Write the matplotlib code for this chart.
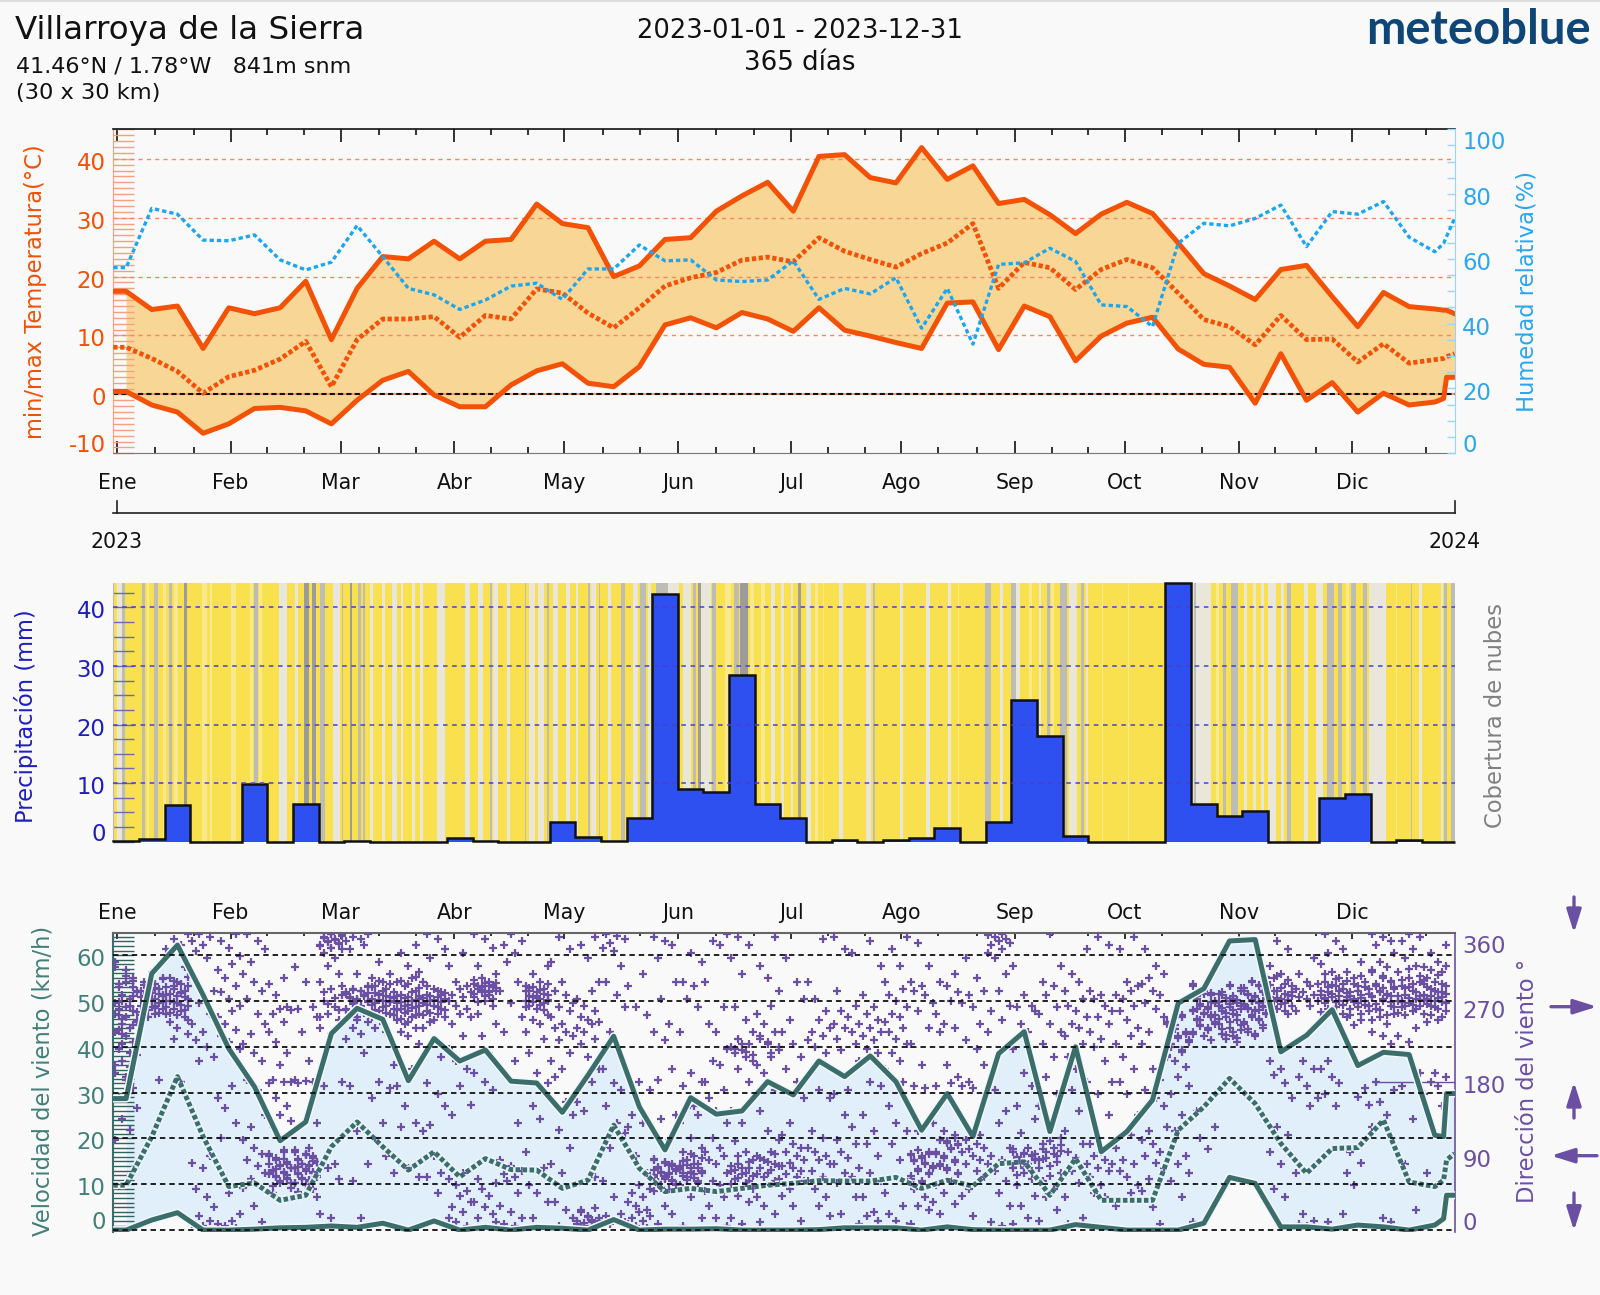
import numpy as np
import matplotlib
matplotlib.use('Agg')
import matplotlib.pyplot as plt
import matplotlib.patheffects as pe
from matplotlib.transforms import ScaledTranslation

plt.rcParams['axes.unicode_minus'] = False

W, H = 1600, 1295
XMAX = 365.9

months = ['Ene', 'Feb', 'Mar', 'Abr', 'May', 'Jun', 'Jul', 'Ago', 'Sep', 'Oct', 'Nov', 'Dic']
month_days = [1, 32, 62, 93, 123, 154, 185, 215, 246, 276, 307, 338]
minor_days = [11.5, 22, 42, 52, 72.5, 82.7, 103, 113, 133.5, 143.6, 164.3, 174.7, 195, 205, 225,
              235.6, 256, 266, 286, 297, 317, 328, 348, 358]

# weekly values, last three entries are the short stub at the end of the year
point_days = [3.5 + 7 * k for k in range(52)] + [362.9, 363.7, 365.9]

temp_max = [17.5, 14.4, 15, 7.8, 14.7, 13.7, 14.7, 19.2, 9.3, 18, 23.4, 23, 26, 23, 26, 26.3, 32.3, 29, 28.3, 20,
            21.8, 26.3, 26.6, 31.1, 33.7, 36, 31.1, 40.4, 40.7, 36.8, 35.9, 41.9, 36.5, 38.8, 32.4, 33.1, 30.5,
            27.3, 30.6, 32.6, 30.7, 25.7, 20.5, 18.4, 16.1, 21.2, 21.9, 16.6, 11.5, 17.3, 14.9, 14.5, 14.3, 14.3, 13.7]
temp_mean = [8, 6.1, 3.9, 0.2, 3, 4.1, 6, 9, 1.3, 9.3, 12.8, 12.8, 13.2, 9.7, 13.4, 12.8, 17.9, 17.2, 13.8, 11.3,
             14.7, 18.4, 19.8, 20.7, 22.8, 23.3, 22.5, 26.6, 24.3, 22.9, 21.6, 23.9, 25.7, 29, 18, 22.4, 21.5,
             17.8, 21.2, 22.9, 21.5, 17.2, 12.7, 11.5, 8.4, 13.4, 9.3, 9.4, 5.5, 8.6, 5.3, 5.9, 6.1, 6.4, 6.9]
temp_min = [0.5, -1.8, -3, -6.6, -5, -2.4, -2.2, -2.8, -5, -1, 2.4, 3.9, -0.1, -2.1, -2.1, 1.6, 4, 5.2, 1.9, 1.3,
            4.7, 11.8, 13, 11.3, 13.9, 12.8, 10.7, 14.7, 10.9, 9.9, 8.8, 7.8, 15.5, 15.7, 7.6, 15, 13.2,
            5.7, 9.9, 12.1, 13.1, 7.7, 5.1, 4.6, -1.5, 6.9, -1, 2, -3, 0.2, -1.8, -1.3, -0.7, 2.9, 2.9]
humidity = [57.3, 75.6, 73.8, 65.8, 65.6, 67.4, 59.7, 56.6, 59, 70.3, 60.7, 50.9, 48.9, 44.4, 47.3, 51.6, 52.5,
            47.5, 56.9, 56.9, 64.3, 59.4, 59.7, 53.5, 53, 53.5, 59.4, 47.5, 50.9, 49.2, 54.2, 38.6, 50.9, 33.7,
            58.3, 58.8, 63.3, 59.2, 45.8, 45.3, 39.1, 64.8, 71, 70.2, 72.5, 76.6, 63.8, 74.6, 73.8, 77.7, 66.7,
            62.2, 64.8, 66.9, 72.5]

precip = [0.1, 0.4, 6.3, 0, 0, 9.8, 0, 6.5, 0, 0.15, 0, 0, 0, 0.7, 0.15, 0, 0, 3.4, 0.85, 0.15, 4, 42.3, 9, 8.5,
          28.4, 6.5, 4, 0, 0.3, 0, 0.25, 0.7, 2.4, 0, 3.3, 24.1, 18, 0.9, 0, 0, 0, 44.2, 6.4, 4.4, 5.2, 0, 0, 7.4,
          8.2, 0, 0.3, 0]
precip_edges = [7 * k for k in range(52)] + [XMAX]

# cloudy stripes: first day, last day, cover level (everything else is clear sky)
cloud_start = [1.1, 2.4, 7.7, 9.1, 11.2, 13.5, 15.3, 16.6, 19.3, 24.1, 26.4, 32, 37.3, 38.5, 39.8, 45.3, 49.5, 52.1,
               54.1, 56.4, 60, 62.3, 64.7, 66.8, 68.2, 70, 73.2, 75.9, 78.6, 81.4, 83.6, 88.4, 95.9, 99.5, 102.7,
               103.6, 107.3, 112.3, 113.5, 115.9, 118.2, 120, 123.6, 126.3, 129.5, 130.4, 132.4, 134.9, 138.6,
               141.8, 143.8, 145.8, 148.1, 151.3, 155.4, 158.1, 159.5, 160.4, 163.3, 166.8, 169.3, 171, 173.6,
               176.8, 179.5, 182.2, 184.9, 186.9, 189, 191.3, 193.6, 198.1, 205.4, 207.2, 214.5, 221.8, 227.7,
               230.4, 237.7, 241.8, 244.9, 246.2, 249.9, 252.6, 254.6, 255.8, 258.2, 260.8, 264, 265.3, 269.7,
               276.7, 294.4, 294.9, 300.8, 302.6, 304.9, 308.5, 310.8, 313, 314.9, 318.5, 320.3, 324.7, 328,
               331.2, 334.2, 336.4, 337.6, 341, 342.6, 349.9, 354, 356.2, 362.1, 363, 364.9]
cloud_end = [2.3, 3.3, 8.6, 9.8, 12.1, 14.4, 16, 17.7, 20.2, 25.5, 26.9, 33.6, 38.2, 39.5, 40.7, 47.3, 50.5, 53.4,
             55.3, 57.7, 61.8, 62.7, 65.2, 67.5, 68.6, 70.9, 74.1, 77.3, 79.1, 82.3, 84.5, 90.5, 97.3, 100.9, 103.2,
             105, 108.2, 112.7, 115, 117.5, 118.9, 121.4, 124.5, 126.8, 130.1, 131.8, 132.8, 135.7, 139.5,
             143.1, 145.4, 146.8, 151.3, 154.2, 157.7, 159, 160.2, 163.1, 164.5, 168.6, 170.8, 173.1, 174.9,
             177.7, 180.4, 183.1, 185.4, 187.7, 190.4, 192.2, 194, 199, 206.8, 207.7, 215.4, 222.7, 228.6,
             230.8, 239.3, 242.7, 246.2, 247.3, 250.6, 253, 255.5, 256.7, 260.3, 263, 264.9, 265.8, 270,
             277, 299.4, 295.3, 301.7, 303.5, 306.7, 309.4, 311.7, 313.9, 317.1, 319.4, 321.2, 325.8, 329.9,
             333, 335.3, 337.1, 338.9, 341.9, 347.1, 350.3, 354.4, 357.1, 362.6, 363.7, 365.9]
cloud_level = [2, 3, 3, 1, 3, 1, 3, 1, 4, 1, 1, 1, 1, 3, 1, 2, 2, 4, 4, 3, 2, 3, 4, 3, 3, 2, 2, 2, 2, 2, 2, 2, 2, 2, 3,
               2, 2, 3, 2, 2, 3, 2, 2, 2, 3, 2, 3, 2, 3, 2, 3, 2, 3, 2, 2, 3, 4, 2, 3, 1, 3, 4, 1, 1, 2, 2, 2, 4, 2, 1,
               1, 2, 2, 3, 2, 2, 2, 1, 3, 2, 3, 2, 1, 2, 3, 1, 3, 2, 3, 2, 1, 1, 2, 3, 1, 3, 3, 2, 2, 2, 2, 2, 3, 2, 2,
               3, 3, 1, 3, 3, 2, 1, 3, 2, 2, 3, 3]
cloud_colors = {1: '#F8E98E', 2: '#E9E7DC', 3: '#BDBDB5', 4: '#9C9C9C'}

wind_max = [28.7, 56, 62.2, 51.3, 39.6, 31.3, 19.5, 23.6, 42.9, 48.4, 46, 32.6, 41.8, 36.9, 39.3, 32.5, 32.1, 25.7,
            33.8, 42.3, 26.9, 17.5, 28.9, 25.3, 26, 32.4, 29.5, 36.9, 33.5, 38, 32.4, 21.8, 29.8, 20.4, 38.5, 43.3,
            21.5, 40, 17.1, 21.5, 28.4, 49.5, 52.7, 63.1, 63.4, 38.9, 42.5, 48.1, 35.9, 38.8, 38.3, 20.7, 20.4, 29.8, 29.8]
wind_mean = [9.8, 20.4, 33.5, 20.4, 9.5, 10.3, 6.5, 7.6, 18.2, 23.6, 18.2, 13.1, 17.1, 11.6, 15.6, 13.2, 13.1, 9.1,
             10.9, 22.9, 13.5, 8.4, 9.1, 8.4, 9.1, 9.8, 10.2, 10.8, 10.7, 10.7, 11.5, 9.1, 10.9, 9.6, 14.5, 14.9,
             7.6, 15.6, 6.5, 6.5, 6.5, 21.8, 26.9, 33.1, 27.6, 18.9, 12.4, 17.8, 18, 24, 10.5, 9.5, 10.9, 15.3, 16.7]
wind_min = [0, 2.2, 3.8, 0, 0, 0.2, 0.5, 0.6, 0.9, 0.6, 1.5, 0, 2, 0, 0.6, 0, 0.6, 0.4, 0, 2.3, 0, 0.2, 0.2, 0.3,
            0, 0, 0, 0.1, 0.5, 0.5, 0.5, 0, 0.7, 0.1, 0, 0, 0, 1.2, 0.6, 0, 0, 0, 1.5, 11.5, 10.2, 0.7, 0.7, 0.2,
            1.1, 0.7, 0, 1.1, 2.5, 7.6, 7.6]

# wind direction readings, one list per week
wind_dir = [
    [325, 315, 305, 298, 290, 285, 280, 275, 270, 265, 260, 255, 250, 245, 240, 235, 228, 220, 212, 205, 198, 190, 182, 172, 160, 148, 135, 122, 110, 300, 283, 268, 252, 238],
    [312, 305, 300, 298, 295, 292, 290, 287, 285, 283, 280, 278, 275, 272, 270, 268, 265, 262, 258, 182],
    [358, 352, 345, 340, 318, 305, 300, 296, 292, 288, 285, 282, 278, 275, 272, 268, 265, 262, 258, 252, 245, 238, 232, 180],
    [359, 355, 350, 345, 338, 330, 290, 275, 262, 250, 240, 230, 222, 210, 205, 90, 82, 75, 50, 40, 28, 18, 12, 8, 5],
    [358, 350, 342, 332, 322, 315, 305, 295, 288, 280, 272, 265, 258, 250, 242, 235, 228, 220, 175, 160, 148, 130, 112, 45, 20, 12, 8, 5, 3],
    [358, 350, 340, 325, 310, 300, 290, 280, 262, 250, 238, 225, 215, 205, 182, 170, 140, 125, 110, 100, 92, 85, 78, 70, 62, 52, 30, 10],
    [305, 298, 285, 270, 268, 266, 262, 252, 240, 228, 215, 200, 180, 182, 180, 178, 160, 150, 140, 132, 125, 95, 90, 85, 80, 78, 75, 72, 70, 68, 65, 62, 58, 52, 45],
    [318, 300, 270, 268, 258, 240, 205, 182, 181, 180, 178, 130, 128, 100, 95, 92, 88, 85, 82, 80, 78, 75, 72, 70, 68, 65, 62, 60, 58, 55, 50, 46, 40],
    [359, 357, 355, 352, 350, 348, 345, 342, 340, 335, 330, 320, 310, 300, 292, 285, 278, 270, 262, 255, 245, 238, 180, 175, 80, 75, 62, 20, 15],
    [358, 355, 352, 350, 345, 340, 310, 295, 292, 290, 288, 285, 282, 280, 278, 275, 272, 268, 265, 262, 258, 252, 245, 238, 232, 215, 175, 120, 80, 60, 15],
    [325, 310, 305, 300, 296, 292, 288, 285, 282, 280, 278, 275, 272, 268, 265, 262, 258, 250, 245, 240, 200, 180, 172, 160, 130, 112, 90, 70],
    [345, 335, 320, 312, 305, 300, 295, 290, 285, 282, 280, 278, 275, 272, 270, 268, 265, 262, 258, 255, 250, 245, 240, 235, 225, 195, 175, 150, 130, 125, 75, 65],
    [359, 352, 340, 330, 300, 292, 288, 285, 282, 280, 278, 275, 272, 268, 265, 262, 258, 252, 245, 230, 210, 178, 165, 150, 128, 120, 90, 70, 65, 45],
    [335, 320, 300, 295, 292, 288, 285, 282, 278, 272, 268, 262, 258, 250, 235, 220, 205, 195, 175, 152, 140, 70, 62, 55, 48, 42, 35, 28, 22, 15, 10, 5],
    [359, 352, 342, 320, 310, 305, 300, 298, 296, 294, 292, 290, 288, 285, 282, 278, 272, 262, 250, 235, 215, 190, 180, 170, 62, 58, 50, 42, 35, 28, 20, 15, 10],
    [359, 350, 345, 335, 325, 300, 290, 275, 258, 240, 205, 185, 130, 85, 78, 72, 68, 65, 60, 45, 30, 22, 15, 8, 5],
    [320, 310, 300, 295, 292, 290, 288, 285, 282, 280, 278, 275, 272, 268, 260, 255, 250, 240, 232, 215, 190, 178, 150, 135, 95, 75, 55, 45, 35, 15],
    [355, 340, 325, 300, 290, 285, 275, 270, 265, 258, 250, 245, 240, 235, 230, 215, 205, 195, 185, 155, 140, 122, 100, 80, 70, 35, 25, 15, 5],
    [355, 345, 330, 300, 290, 280, 272, 265, 258, 255, 252, 250, 245, 240, 232, 225, 210, 195, 180, 155, 145, 65, 25, 18, 12, 10, 8, 6, 4, 3],
    [359, 356, 352, 348, 342, 338, 320, 300, 285, 270, 240, 195, 178, 170, 150, 130, 118, 100, 60, 40, 20, 18, 12, 10, 8],
    [310, 296, 270, 260, 180, 170, 140, 130, 125, 90, 70, 55, 50, 45, 40, 35, 30, 25, 22, 18, 15, 12, 8, 5, 3],
    [355, 350, 345, 330, 300, 280, 250, 240, 230, 195, 182, 140, 135, 110, 85, 82, 78, 75, 72, 70, 68, 65, 62, 60, 58, 55, 52, 50, 48, 30, 20, 8],
    [335, 325, 300, 295, 280, 270, 240, 190, 180, 175, 150, 148, 140, 130, 112, 100, 95, 90, 85, 80, 78, 75, 72, 70, 68, 65, 60, 55, 40, 15, 5],
    [359, 350, 345, 300, 270, 250, 240, 220, 205, 200, 180, 170, 160, 145, 130, 112, 100, 95, 90, 85, 80, 70, 60, 55, 48, 40, 30, 15, 5],
    [355, 345, 330, 310, 270, 255, 240, 232, 225, 222, 218, 215, 210, 205, 195, 180, 145, 130, 108, 95, 85, 80, 75, 72, 68, 62, 58, 50, 42, 35, 15, 8],
    [355, 320, 305, 290, 272, 262, 250, 240, 232, 225, 218, 210, 200, 190, 170, 145, 120, 110, 95, 90, 85, 80, 75, 70, 62, 55, 40, 30, 20, 10],
    [330, 300, 280, 255, 240, 225, 210, 195, 180, 160, 130, 115, 105, 100, 95, 90, 85, 82, 78, 75, 72, 68, 65, 60, 50, 42, 30, 12],
    [352, 300, 280, 265, 255, 245, 240, 235, 230, 222, 215, 170, 160, 120, 112, 100, 95, 90, 85, 80, 72, 65, 60, 50, 40, 30, 18],
    [355, 340, 335, 290, 272, 265, 258, 250, 245, 240, 232, 225, 218, 170, 165, 140, 125, 110, 105, 95, 88, 80, 70, 65, 58, 40, 20],
    [350, 320, 285, 270, 262, 255, 250, 245, 240, 235, 230, 220, 215, 205, 180, 175, 140, 120, 105, 90, 75, 70, 60, 40, 22, 18, 12, 8],
    [355, 340, 320, 300, 292, 285, 278, 270, 262, 258, 252, 245, 240, 232, 225, 215, 205, 195, 180, 150, 130, 120, 105, 85, 45, 30, 20, 12, 5, 3],
    [348, 320, 300, 295, 290, 285, 275, 265, 245, 225, 200, 175, 172, 130, 120, 95, 92, 90, 85, 82, 78, 72, 68, 62, 58, 50, 40, 35, 30, 25, 8],
    [310, 300, 295, 288, 278, 262, 250, 245, 240, 200, 185, 178, 175, 120, 115, 110, 108, 105, 100, 95, 90, 85, 80, 75, 70, 60, 55, 45, 32, 20],
    [330, 305, 290, 285, 275, 270, 250, 230, 220, 200, 180, 175, 172, 115, 110, 105, 100, 98, 95, 90, 85, 80, 72, 65, 50, 42, 18],
    [359, 357, 355, 352, 350, 348, 345, 340, 335, 330, 310, 290, 272, 265, 255, 240, 170, 145, 130, 100, 90, 85, 80, 72, 60, 45, 30, 10, 5],
    [320, 285, 272, 270, 265, 250, 240, 220, 190, 175, 150, 135, 118, 100, 95, 92, 90, 88, 85, 82, 80, 75, 70, 62, 55, 42, 30, 15, 8],
    [358, 320, 300, 295, 285, 270, 262, 250, 240, 225, 210, 185, 165, 150, 125, 112, 105, 100, 95, 90, 85, 78, 70, 60, 50, 40, 25, 12],
    [340, 310, 300, 290, 280, 272, 265, 258, 250, 245, 235, 225, 210, 195, 180, 170, 145, 120, 105, 95, 88, 80, 72, 58, 40, 15, 8],
    [355, 345, 290, 285, 280, 272, 265, 258, 250, 240, 232, 222, 205, 180, 165, 140, 105, 95, 90, 85, 80, 75, 72, 65, 55, 45, 40],
    [355, 340, 300, 295, 290, 285, 280, 272, 265, 255, 245, 235, 225, 210, 195, 180, 165, 140, 115, 100, 85, 80, 72, 65, 55, 45, 30],
    [340, 320, 310, 305, 298, 290, 285, 275, 268, 258, 240, 225, 195, 182, 170, 160, 150, 120, 110, 105, 95, 90, 82, 75, 62, 48, 28, 8],
    [260, 252, 248, 240, 235, 230, 225, 218, 212, 205, 198, 185, 175, 165, 140, 125, 120, 90, 80, 70, 60, 40],
    [298, 290, 285, 280, 275, 272, 268, 265, 262, 258, 255, 250, 248, 245, 240, 235, 230, 145, 125, 112, 98, 10],
    [295, 290, 285, 280, 278, 275, 272, 270, 268, 265, 262, 258, 255, 250, 245, 242, 238, 235, 232, 228],
    [305, 300, 295, 290, 288, 285, 282, 280, 278, 275, 272, 270, 268, 265, 262, 258, 255, 250, 245, 240, 235],
    [350, 340, 320, 310, 305, 298, 295, 290, 285, 282, 280, 278, 275, 272, 268, 262, 205, 195, 188, 178, 160, 125, 115, 95, 80, 50, 40],
    [330, 310, 300, 298, 295, 292, 288, 285, 282, 280, 278, 272, 265, 205, 195, 185, 175, 160, 150, 70, 20, 12, 8, 5],
    [358, 350, 340, 335, 322, 312, 305, 300, 296, 292, 288, 285, 282, 278, 275, 270, 262, 205, 195, 185, 178, 165, 150, 20, 10],
    [325, 312, 305, 300, 296, 292, 288, 285, 282, 280, 278, 275, 272, 268, 262, 258, 248, 172, 162, 152, 95, 82, 70, 55],
    [359, 355, 350, 345, 335, 325, 318, 312, 305, 300, 296, 292, 288, 285, 282, 278, 272, 268, 262, 258, 250, 240, 235, 225, 180, 170, 155, 140, 125, 15, 10],
    [359, 355, 350, 340, 330, 320, 312, 305, 300, 295, 290, 285, 280, 278, 275, 272, 270, 265, 260, 245, 235, 228, 190, 175, 135, 80, 25],
    [345, 335, 325, 318, 312, 305, 300, 296, 292, 288, 285, 282, 280, 278, 275, 272, 268, 262, 258, 252, 190, 185, 180, 175, 165, 150, 70],
]

# more readings for the weeks where the marks pile up
dense_weeks = [0, 1, 2, 6, 7, 8, 9, 10, 11, 12, 14, 16, 18, 21, 22, 24, 25, 31, 32, 35, 36, 41, 42, 43, 44, 45, 47, 48, 49, 50, 51]
dense_dir = [
    [318, 308, 302, 294, 288, 278, 272, 262, 258, 248, 242, 232, 225, 215, 200, 185, 294, 276, 264, 256],
    [310, 304, 297, 293, 289, 286, 282, 279, 276, 273, 269, 266, 263, 260, 291, 284, 277, 271],
    [306, 302, 298, 294, 290, 286, 283, 280, 276, 273, 270, 266, 263, 260, 255, 296, 287, 277],
    [97, 93, 88, 83, 79, 76, 73, 71, 69, 66, 63, 60, 57, 54, 86, 81, 74, 67],
    [97, 93, 90, 86, 83, 81, 79, 76, 74, 71, 69, 66, 63, 61, 57, 91, 84, 77],
    [358, 356, 353, 351, 349, 346, 344, 341, 295, 288, 281, 274, 266, 258],
    [294, 291, 289, 286, 283, 281, 279, 276, 274, 270, 266, 263, 260, 255, 287, 277],
    [302, 298, 294, 290, 287, 284, 281, 279, 276, 273, 270, 266, 263, 260, 286, 278],
    [306, 302, 298, 293, 288, 284, 281, 279, 276, 273, 271, 269, 266, 263, 260, 256, 252, 283, 277],
    [295, 290, 287, 284, 281, 279, 276, 273, 270, 266, 263, 260, 255, 285, 277],
    [303, 299, 297, 295, 293, 291, 289, 286, 283, 280, 276, 299, 294, 288],
    [298, 294, 291, 289, 286, 283, 281, 279, 276, 273, 270, 266, 293, 284, 278],
    [27, 22, 17, 15, 13, 11, 9, 7, 5, 16, 10, 6],
    [87, 83, 80, 77, 74, 71, 69, 67, 64, 61, 59, 56, 53, 79, 73, 66],
    [92, 88, 84, 81, 79, 76, 74, 71, 69, 66, 63, 61, 57, 77, 70],
    [90, 83, 78, 76, 73, 70, 66, 64, 60, 56, 226, 220, 216, 212],
    [93, 88, 83, 78, 73, 68, 65, 60, 235, 228, 222, 215],
    [97, 93, 91, 88, 84, 80, 76, 74, 70, 66, 60, 55],
    [112, 109, 106, 103, 98, 93, 88, 83, 78, 73, 68],
    [98, 94, 91, 89, 87, 84, 81, 78, 76, 72, 67, 93, 86],
    [108, 103, 98, 93, 88, 83, 76, 66, 96, 86],
    [258, 250, 244, 238, 233, 228, 222, 216, 210],
    [296, 292, 287, 283, 278, 274, 270, 266, 263, 260, 256, 252, 247, 242, 237, 286, 276, 268, 261, 254],
    [297, 293, 288, 283, 281, 279, 276, 274, 271, 269, 266, 263, 260, 256, 252, 248, 244, 240, 236, 233, 286, 277],
    [307, 302, 297, 293, 289, 286, 283, 281, 279, 276, 274, 271, 269, 266, 263, 260, 256, 252, 248, 243, 238, 287, 277, 267],
    [308, 303, 297, 293, 289, 286, 283, 281, 279, 276, 274, 270, 265, 288, 280],
    [310, 304, 298, 294, 290, 286, 283, 280, 276, 273, 268, 264, 297, 289, 281],
    [308, 302, 298, 294, 290, 286, 283, 281, 279, 276, 273, 270, 265, 260, 255, 287, 277],
    [315, 308, 302, 298, 294, 290, 286, 283, 280, 276, 274, 270, 266, 260, 254, 293, 284],
    [316, 308, 303, 298, 293, 288, 283, 281, 279, 276, 273, 271, 268, 263, 294, 284, 277],
    [320, 315, 309, 303, 298, 294, 290, 286, 283, 281, 279, 276, 274, 270, 265, 260, 255, 298, 288, 279],
]

ORANGE = '#F25106'
SKY = '#1BA6EE'
NAVY = '#1E1EBE'
TEAL = '#3B6E6B'
TEAL_TXT = '#417F7B'
PURPLE = '#6B4FA3'
COLS = [0, 3, 5, 1, 6, 2, 4]
TICK_FS = 16.4
TITLE_FS = 16.3


def fx(px):
    return px / W


def fy(py):
    return 1 - py / H


def panel(top, bottom, left=113.3, right=1454.6):
    a = fig.add_axes([fx(left), fy(bottom), fx(right - left), (bottom - top) / H])
    a.patch.set_alpha(0)
    a.set_xlim(0, XMAX)
    return a


def shift_labels(a, ends, dy=-2):
    # the outermost labels are pulled inside the axis, the others sit a bit below their tick
    for lab, tick in zip(a.get_yticklabels(), a.get_yticks()):
        move = dy
        if tick in ends:
            lab.set_va(ends[tick])
            move = -4 if ends[tick] == 'bottom' else -2
        off = ScaledTranslation(0, move / 100, fig.dpi_scale_trans)
        lab.set_transform(lab.get_transform() + off)


def month_axis(a, bottom=True, major=12.5, minor=6):
    a.set_xticks(month_days)
    a.set_xticks(minor_days, minor=True)
    a.set_xticklabels(months, fontsize=14.8, color='#111111')
    a.tick_params(axis='x', which='major', direction='in', top=True, bottom=bottom, length=major * 0.72,
                  width=1.2, color='#111111')
    a.tick_params(axis='x', which='minor', direction='in', top=True, bottom=bottom, length=minor * 0.72,
                  width=1.2, color='#111111')


def week_marks(a, k, week):
    xs = [7 * k + (COLS[i % 7] + k * 3) % 7 + 0.5 for i in range(len(week))]
    a.plot(xs, week, linestyle='none', marker='+', ms=6.4, mew=1.6, color=PURPLE, zorder=2)


fig = plt.figure(figsize=(W / 100, H / 100), dpi=100, facecolor='#F9F9F9')
fig.add_artist(plt.Line2D([0, 1], [0.9995, 0.9995], color='#DDDDDD', lw=1.5))

# header
fig.text(fx(15), fy(39), 'Villarroya de la Sierra', fontsize=23.4, color='#111111', va='baseline')
fig.text(fx(16), fy(72), '41.46°N / 1.78°W   841m snm', fontsize=16, color='#111111', va='baseline')
fig.text(fx(16), fy(99), '(30 x 30 km)', fontsize=16.2, color='#111111', va='baseline')
fig.text(fx(800), fy(31), '2023-01-01 - 2023-12-31', fontsize=18.5, color='#111111', ha='center', va='center')
fig.text(fx(800), fy(63), '365 días', fontsize=18.7, color='#111111', ha='center', va='center')
fig.text(fx(1591), fy(44), 'meteoblue', fontsize=33.9, color='#0F4678', ha='right', va='baseline',
         family='Lato', weight='bold')

# temperature / humidity
ax1 = panel(129.3, 453.3)
ax1.set_ylim(-10, 45)
ax1.fill_between(point_days, temp_min, temp_max, color='#F8D696', lw=0, zorder=1)
for v in [10, 20, 30, 40]:
    ax1.axhline(v, color='#F9875E', lw=1, dashes=(3, 3), zorder=2)
ax1.axhline(0, color='#F9875E', lw=1.2, zorder=2)
ax1.axhline(0, color='#111111', lw=1.5, dashes=(2.5, 1.5), zorder=2)
ax1.plot([0] + point_days, [temp_max[0]] + temp_max, color=ORANGE, lw=3.6, zorder=3)
ax1.plot([0] + point_days, [temp_min[0]] + temp_min, color=ORANGE, lw=3.6, zorder=3)
ax1.plot([0] + point_days, [temp_mean[0]] + temp_mean, color=ORANGE, lw=3.4, dashes=(0.9, 0.55), zorder=3)
ax1.set_yticks([-10, 0, 10, 20, 30, 40])
ax1.set_yticks(np.arange(-10, 46, 1), minor=True)
ax1.tick_params(axis='y', which='both', direction='in', length=15, width=1, color='#F7A080',
                labelcolor=ORANGE, labelsize=TICK_FS, pad=5.5)
shift_labels(ax1, {-10: 'bottom'})
month_axis(ax1)
ax1.tick_params(axis='x', which='major', pad=14)
for s in ['left', 'bottom']:
    ax1.spines[s].set_color('#F7A080')
ax1.spines['top'].set_color('#111111')
ax1.spines['top'].set_linewidth(1.2)
ax1.spines['bottom'].set_color('#777777')
ax1.spines['right'].set_visible(False)

ax1b = ax1.twinx()
ax1b.patch.set_alpha(0)
ax1b.set_ylim(0, 100)
ax1b.plot([0] + point_days, [humidity[0]] + humidity, color=SKY, lw=2.4, dashes=(1.3, 0.9), zorder=4)
ax1b.set_yticks([0, 20, 40, 60, 80, 100])
ax1b.set_yticks(np.arange(5, 100, 5), minor=True)
ax1b.tick_params(axis='y', which='both', direction='in', length=6, width=1, color='#9AD4F7',
                 labelcolor='#2BA6F0', labelsize=TICK_FS, pad=5.5)
shift_labels(ax1b, {0: 'bottom', 100: 'top'})
for s in ['left', 'top', 'bottom']:
    ax1b.spines[s].set_visible(False)
ax1b.spines['right'].set_color('#9AD4F7')

# year bar below the first panel
fig.add_artist(plt.Line2D([fx(113.3), fx(1454.6)], [fy(513.3), fy(513.3)], color='#222222', lw=1.2))
fig.add_artist(plt.Line2D([fx(117.3), fx(117.3)], [fy(501), fy(513.3)], color='#222222', lw=1.2))
fig.add_artist(plt.Line2D([fx(1454.6), fx(1454.6)], [fy(501), fy(513.3)], color='#222222', lw=1.2))
fig.text(fx(117), fy(541.5), '2023', fontsize=14.8, color='#111111', ha='center', va='center')
fig.text(fx(1454.6), fy(541.5), '2024', fontsize=14.8, color='#111111', ha='center', va='center')

# precipitation / clouds
ax2 = panel(582.7, 841.7)
ax2.set_ylim(0, 44.2)
ax2.patch.set_alpha(1)
ax2.set_facecolor('#F9E04F')
for s, e, lev in zip(cloud_start, cloud_end, cloud_level):
    ax2.axvspan(s, e, color=cloud_colors[lev], lw=0, zorder=1)
ax2.stairs(precip, precip_edges, fill=True, color='#2E50F0', zorder=2)
ax2.stairs(precip, precip_edges, baseline=0, color='#111111', lw=1.8, zorder=3, clip_on=False)
for v in [10, 20, 30, 40]:
    ax2.axhline(v, color='#4A3FD0', lw=1.1, dashes=(3, 3), zorder=4)
ax2.set_yticks([0, 10, 20, 30, 40])
ax2.set_yticks(np.arange(0, 44, 2.5), minor=True)
ax2.tick_params(axis='y', which='both', direction='in', length=15, width=1, color='#6A6AB8',
                labelcolor=NAVY, labelsize=TICK_FS, pad=5.5)
shift_labels(ax2, {0: 'bottom'})
ax2.set_xticks([])
for s in ['top', 'right', 'bottom']:
    ax2.spines[s].set_visible(False)
ax2.spines['left'].set_color('#BBBBBB')

# wind
ax3 = panel(932.7, 1231.7)
ax3.set_ylim(-0.35, 64.9)
ax3.fill_between(point_days, wind_min, wind_max, color='#E0EFF9', lw=0, zorder=1)
ax3.set_yticks([0, 10, 20, 30, 40, 50, 60])
ax3.set_yticks(np.arange(0, 65, 1), minor=True)
ax3.tick_params(axis='y', which='both', direction='in', length=15, width=1, color='#2F6360',
                labelcolor=TEAL_TXT, labelsize=TICK_FS, pad=5.5)
shift_labels(ax3, {0: 'bottom'})
ax3.set_xticks(month_days)
ax3.set_xticks(minor_days, minor=True)
ax3.set_xticklabels(months, fontsize=14.8, color='#111111')
ax3.xaxis.tick_top()
ax3.tick_params(axis='x', which='major', direction='in', length=4, width=1.2, color='#111111', pad=7)
ax3.tick_params(axis='x', which='minor', direction='in', length=2.5, width=1.2, color='#111111')
for s in ['right', 'bottom']:
    ax3.spines[s].set_visible(False)
ax3.spines['left'].set_color(TEAL)
ax3.spines['left'].set_linewidth(1.5)
ax3.spines['top'].set_color('#666666')
ax3.spines['top'].set_linewidth(1.5)

ax_dir = ax3.twinx()
ax_dir.patch.set_alpha(0)
ax_dir.set_ylim(-1.4, 360)
for k, week in enumerate(wind_dir):
    week_marks(ax_dir, k, week)
for k, week in zip(dense_weeks, dense_dir):
    week_marks(ax_dir, k, week)
ax_dir.set_yticks([0, 90, 180, 270, 360])
ax_dir.tick_params(axis='y', direction='in', length=0, labelcolor=PURPLE, labelsize=TICK_FS, pad=5.5)
shift_labels(ax_dir, {0: 'bottom', 360: 'top'})
ax_dir.hlines(180, 344, XMAX, color=PURPLE, lw=1, zorder=2)
for s in ['left', 'top', 'bottom']:
    ax_dir.spines[s].set_visible(False)
ax_dir.spines['right'].set_color(PURPLE)
ax_dir.spines['right'].set_linewidth(1.2)

ax_line = ax3.twinx()
ax_line.patch.set_alpha(0)
ax_line.set_ylim(-0.35, 64.9)
ax_line.axis('off')
halo = [pe.Stroke(linewidth=5.8, foreground='#F1F8FC'), pe.Normal()]
ax_line.plot([0] + point_days, [wind_max[0]] + wind_max, color=TEAL, lw=3.6, path_effects=halo, zorder=3)
ax_line.plot([0] + point_days, [wind_min[0]] + wind_min, color=TEAL, lw=3.6, path_effects=halo, zorder=3)
ax_line.plot([0] + point_days, [wind_mean[0]] + wind_mean, color=TEAL, lw=3.6, dashes=(0.9, 0.5),
             path_effects=halo, zorder=3)
for v in [0, 10, 20, 30, 40, 50, 60]:
    ax_line.axhline(v, color='#111111', lw=1.3, dashes=(3, 2.2), zorder=4)

# axis titles
fig.text(fx(36), fy(291.5), 'min/max Temperatura(°C)', rotation=90, fontsize=TITLE_FS, color=ORANGE, ha='center', va='center')
fig.text(fx(1527), fy(291), 'Humedad relativa(%)', rotation=90, fontsize=TITLE_FS, color='#2BA6F0', ha='center', va='center')
fig.text(fx(26.5), fy(716), 'Precipitación (mm)', rotation=90, fontsize=TITLE_FS, color=NAVY, ha='center', va='center')
fig.text(fx(1495), fy(715), 'Cobertura de nubes', rotation=90, fontsize=TITLE_FS, color='#808080', ha='center', va='center')
fig.text(fx(43), fy(1081), 'Velocidad del viento (km/h)', rotation=90, fontsize=TITLE_FS, color=TEAL_TXT, ha='center', va='center')
fig.text(fx(1527), fy(1081), 'Dirección del viento °', rotation=90, fontsize=TITLE_FS, color=PURPLE, ha='center', va='center')

# compass arrows on the right
arrows = [(1574, 897, 1574, 933), (1551, 1006.7, 1597, 1006.7), (1574, 1118, 1574, 1082),
          (1597, 1155.7, 1551, 1155.7), (1574, 1193, 1574, 1230.7)]
for x0, y0, x1, y1 in arrows:
    fig.add_artist(matplotlib.patches.FancyArrowPatch((fx(x0), fy(y0)), (fx(x1), fy(y1)),
                   transform=fig.transFigure, arrowstyle='-|>,head_length=0.7,head_width=0.22',
                   mutation_scale=20, color=PURPLE, lw=2.4, shrinkA=0, shrinkB=0))

fig.savefig('out.png', dpi=100, facecolor=fig.get_facecolor())
